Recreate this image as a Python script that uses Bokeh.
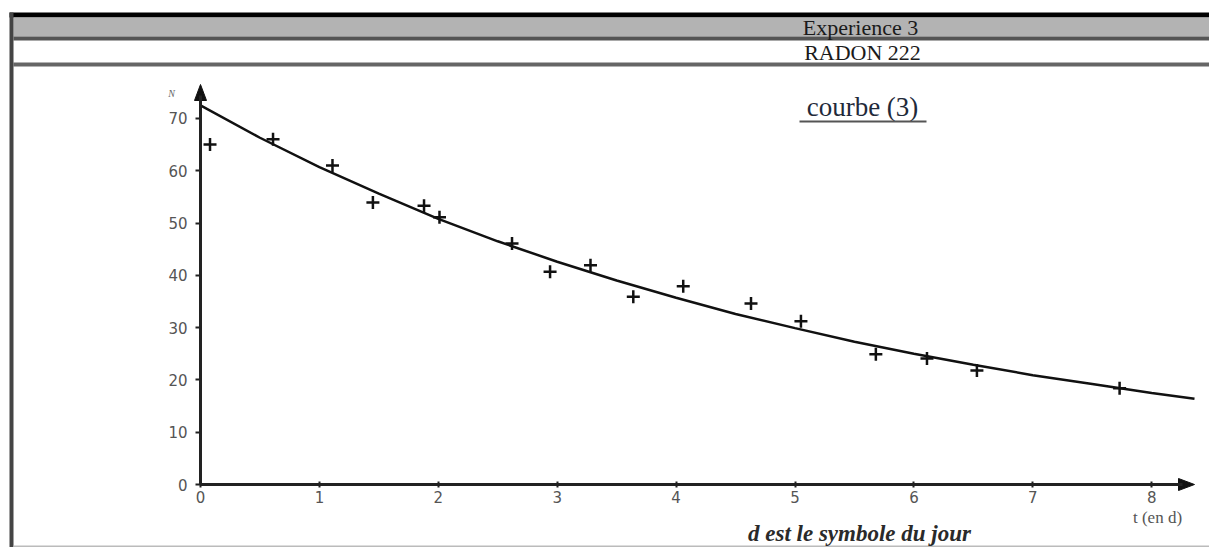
from bokeh.plotting import figure
from bokeh.models import LinearAxis, FixedTicker, Range1d
from bokeh.core.properties import value
from bokeh.embed import file_html
from bokeh.resources import INLINE

# ---- data ----
t_obs = [0.08, 0.61, 1.11, 1.45, 1.88, 2.01, 2.62, 2.94, 3.28, 3.64, 4.06, 4.63, 5.05, 5.68, 6.11, 6.53, 7.73]
n_obs = [65.0, 66.0, 61.0, 53.9, 53.3, 51.1, 46.1, 40.7, 41.9, 35.9, 37.9, 34.6, 31.2, 24.9, 24.1, 21.8, 18.4]

t_fit = [0, 0.5, 1, 1.5, 2, 2.5, 3, 3.5, 4, 4.5, 5, 5.5, 6, 6.5, 7, 7.5, 8, 8.36]
n_fit = [72.5, 66.3, 60.7, 55.6, 50.8, 46.5, 42.6, 39.0, 35.7, 32.6, 29.9, 27.3, 25.0, 22.9, 20.9, 19.2, 17.5, 16.4]

x_ticks = [0, 1, 2, 3, 4, 5, 6, 7, 8]
y_ticks = [0, 10, 20, 30, 40, 50, 60, 70]

header_top = "Experience 3"
header_sub = "RADON 222"
curve_title = "courbe (3)"
x_label = "t (en d)"
y_label = "N"
footnote = "d est le symbole du jour"

# ---- geometry: page pixels -> data ----
W, H = 1209, 547
OFF = 0                 # page offset of the canvas
X0, SX = 200.0, 118.9   # page px of t=0, px per day
Y0, SY = 484.0, 5.23    # page px of N=0, px per unit


def dx(px):
    return (px - X0) / SX


def dy(py):
    return (Y0 - py) / SY


p = figure(width=W, height=H, output_backend="svg", toolbar_location=None,
           x_range=Range1d(dx(OFF), dx(OFF + W)), y_range=Range1d(dy(OFF + H), dy(OFF)),
           min_border=0, x_axis_type=None, y_axis_type=None)
p.outline_line_color = None
p.grid.visible = False
p.background_fill_color = "white"
p.border_fill_color = "white"

# ---- page frame / header ----
p.quad(left=[dx(9)], right=[dx(1215)], top=[dy(12)], bottom=[dy(17)], fill_color="#000000", line_color=None)
p.quad(left=[dx(13)], right=[dx(1215)], top=[dy(17)], bottom=[dy(36)], fill_color="#b3b3b3", line_color=None)
p.quad(left=[dx(13)], right=[dx(1215)], top=[dy(36)], bottom=[dy(40)], fill_color="#555555", line_color=None)
p.quad(left=[dx(13)], right=[dx(1215)], top=[dy(62)], bottom=[dy(66)], fill_color="#666666", line_color=None)
p.quad(left=[dx(9)], right=[dx(13)], top=[dy(12)], bottom=[dy(560)], fill_color="#444444", line_color=None)
p.quad(left=[dx(13)], right=[dx(1215)], top=[dy(545)], bottom=[dy(548)], fill_color="#bbbbbb", line_color=None)

p.text(x=[dx(860)], y=[dy(27)], text=[header_top], text_font=value("Liberation Serif"),
       text_font_size="22px", text_align="center", text_baseline="middle", text_color="#1a1a1a")
p.text(x=[dx(862)], y=[dy(52)], text=[header_sub], text_font=value("Liberation Serif"),
       text_font_size="22px", text_align="center", text_baseline="middle", text_color="#1a1a1a")

# ---- axes ----
xaxis = LinearAxis(fixed_location=0, ticker=FixedTicker(ticks=x_ticks), bounds=(0, dx(1182)))
yaxis = LinearAxis(fixed_location=0, ticker=FixedTicker(ticks=y_ticks), bounds=(0, dy(95)))
for ax in (xaxis, yaxis):
    ax.axis_line_width = 3
    ax.axis_line_color = "#222222"
    ax.major_tick_line_color = "#222222"
    ax.major_tick_line_width = 2
    ax.minor_tick_line_color = None
    ax.major_label_text_font = "DejaVu Sans"
    ax.major_label_text_font_size = "15px"
    ax.major_label_text_color = "#555555"
xaxis.major_tick_in = 3
xaxis.major_tick_out = 3
xaxis.major_label_standoff = 3
yaxis.major_tick_in = 0
yaxis.major_tick_out = 5
yaxis.major_label_standoff = 8
p.add_layout(xaxis, "below")
p.add_layout(yaxis, "left")

# arrow heads
p.patch(x=[dx(1178), dx(1194), dx(1178)], y=[dy(478), dy(484), dy(490)], color="#111111")
p.patch(x=[dx(194), dx(200), dx(206)], y=[dy(100), dy(84), dy(100)], color="#111111")

# ---- data ----
p.line(t_fit, n_fit, line_color="#111111", line_width=2.5)
p.scatter(t_obs, n_obs, marker="cross", size=13, line_color="#111111", line_width=2.5)

# ---- labels ----
p.text(x=[dx(171)], y=[dy(93)], text=[y_label], text_font=value("Liberation Serif"),
       text_font_style="italic", text_font_size="10px", text_align="center",
       text_baseline="middle", text_color="#666666")
p.text(x=[dx(1157)], y=[dy(517)], text=[x_label], text_font=value("Liberation Serif"),
       text_font_size="17px", text_align="center", text_baseline="middle", text_color="#555555")
p.text(x=[dx(862)], y=[dy(106)], text=[curve_title], text_font=value("Liberation Serif"),
       text_font_size="27px", text_align="center", text_baseline="middle", text_color="#1f2a3a")
p.segment(x0=[dx(799)], y0=[dy(121)], x1=[dx(926)], y1=[dy(121)], line_color="#555555", line_width=2)
p.text(x=[dx(859)], y=[dy(533)], text=[footnote], text_font=value("Liberation Serif"),
       text_font_style="bold italic", text_font_size="23px", text_align="center",
       text_baseline="middle", text_color="#2a2a2a")

open("out.html", "w").write(file_html(p, INLINE))
